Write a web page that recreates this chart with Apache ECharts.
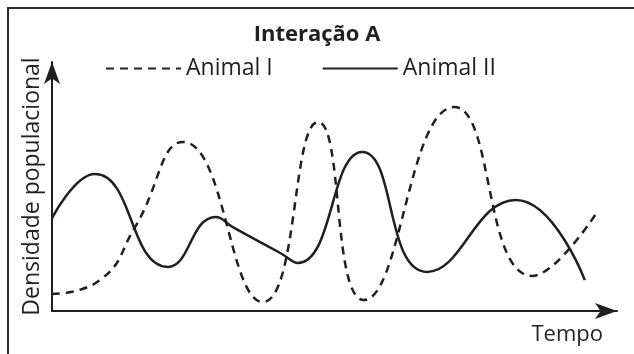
<!DOCTYPE html>
<html>
<head>
<meta charset="utf-8">
<script src="https://cdn.jsdelivr.net/npm/echarts@6/dist/echarts.min.js"></script>
<style>
  html, body { margin: 0; padding: 0; background: #fff; }
  #chart { width: 634px; height: 354px; }
</style>
</head>
<body>
<div id="chart"></div>
<script>
// time (0-100) / population density (0-100)
const animalI = [
  [0, 6.8], [8.5, 12.4], [14.7, 33.7], [23.2, 67.9], [37.3, 3.6],
  [47.1, 75.9], [55.2, 4.4], [71.2, 81.9], [85.0, 14.1], [96.5, 39.8],
];
const animalII = [
  [0, 37.3], [7.6, 55.0], [20.5, 17.7], [29.0, 37.8], [32.0, 33.7],
  [40.4, 23.3], [43.5, 19.3], [54.9, 63.9], [66.4, 15.7], [82.1, 44.6],
  [94.3, 12.4],
];
const seriesNames = ["Animal I", "Animal II"];
const titleText = "Interação A";
const xName = "Tempo";
const yName = "Densidade populacional";

const ink = "#231f20";
const font = "'Open Sans', 'Noto Sans', sans-serif";

const chart = echarts.init(document.getElementById("chart"));

chart.setOption({
  animation: false,
  title: {
    text: titleText,
    left: "center",
    top: 19,
    textStyle: { fontFamily: font, fontSize: 22, fontWeight: "bold", color: ink },
  },
  legend: {
    left: 100,
    top: 52,
    itemWidth: 75,
    itemHeight: 14,
    itemGap: 49,
    itemStyle: { opacity: 0 },
    textStyle: { fontFamily: font, fontSize: 23, color: ink },
    data: seriesNames,
  },
  grid: { left: 52, right: 17, top: 62, bottom: 43, outerBoundsMode: "none" },
  xAxis: {
    type: "value",
    min: 0,
    max: 100,
    name: xName,
    nameLocation: "end",
    nameGap: -14,
    nameTextStyle: {
      fontFamily: font, fontSize: 22, color: ink,
      align: "right", verticalAlign: "top", padding: [13, 0, 0, 0],
    },
    axisLine: {
      lineStyle: { color: ink, width: 2 },
      symbol: ["none", "arrow"],
      symbolSize: [12, 22],
    },
    axisTick: { show: false },
    axisLabel: { show: false },
    splitLine: { show: false },
  },
  yAxis: {
    type: "value",
    min: 0,
    max: 100,
    name: yName,
    nameLocation: "middle",
    nameRotate: 90,
    nameGap: 8,
    nameTextStyle: { fontFamily: font, fontSize: 23, color: ink },
    axisLine: {
      show: true,
      lineStyle: { color: ink, width: 2 },
      symbol: ["none", "arrow"],
      symbolSize: [12, 22],
    },
    axisTick: { show: false },
    axisLabel: { show: false },
    splitLine: { show: false },
  },
  graphic: [
    {
      type: "rect",
      shape: { x: 8, y: 8, width: 700, height: 400 },
      style: { fill: "none", stroke: "#2a2a2a", lineWidth: 2 },
      silent: true,
    },
  ],
  series: [
    {
      name: seriesNames[0],
      type: "line",
      data: animalI,
      smooth: 0.5,
      symbol: "none",
      lineStyle: { color: ink, width: 2.5, type: [8, 6] },
      itemStyle: { color: ink },
    },
    {
      name: seriesNames[1],
      type: "line",
      data: animalII,
      smooth: 0.5,
      symbol: "none",
      lineStyle: { color: ink, width: 2.5 },
      itemStyle: { color: ink },
    },
  ],
});
</script>
</body>
</html>
